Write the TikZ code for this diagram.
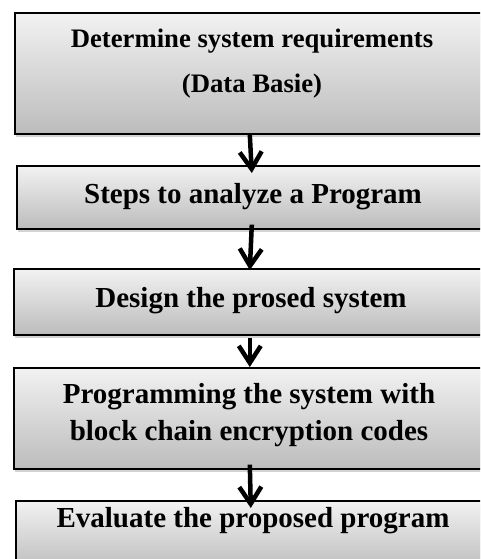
\documentclass[tikz,border=0pt]{standalone}
\usepackage{fontspec}
\setmainfont{Liberation Serif}
\usetikzlibrary{arrows.meta,shadows}

\definecolor{boxtop}{RGB}{242,242,242}
\definecolor{boxbottom}{RGB}{188,188,188}

\tikzset{
  stagebox/.style={
    draw=black, line width=1.6pt, rectangle, anchor=north west,
    top color=boxtop, bottom color=boxbottom,
    drop shadow={shadow xshift=1.5pt, shadow yshift=-3.5pt, opacity=0.35, fill=gray},
  },
  stagetext/.style={anchor=base, align=center, font=\bfseries, inner sep=0pt},
  flowarrow/.style={line width=4.5pt,
    -{Straight Barb[length=17pt,width=22pt,line width=4.5pt,line join=miter]}},
}

\begin{document}
\begin{tikzpicture}[x=1pt, y=-1pt]
  \useasboundingbox (0,0) rectangle (480,559);
  \clip (0,0) rectangle (480,559);

  % stage boxes (they run past the right and bottom edges)
  \node[stagebox, minimum width=476pt, minimum height=121pt] (b1) at (14,12) {};
  \node[stagebox, minimum width=476pt, minimum height=63pt]  (b2) at (16,165) {};
  \node[stagebox, minimum width=478pt, minimum height=66pt]  (b3) at (13,268) {};
  \node[stagebox, minimum width=478pt, minimum height=101pt] (b4) at (13,367) {};
  \node[stagebox, minimum width=476pt, minimum height=70pt]  (b5) at (15,500) {};

  % stage captions (base anchor = baseline of the last line)
  \node[stagetext, font=\bfseries\fontsize{26.7}{45}\selectfont] (t1) at (252,93)
    {Determine system requirements\\(Data Basie)};
  \node[stagetext, font=\bfseries\fontsize{29}{35}\selectfont] (t2) at (253,203)
    {Steps to analyze a Program};
  \node[stagetext, font=\bfseries\fontsize{29}{35}\selectfont] (t3) at (251,307)
    {Design the prosed system};
  \node[stagetext, font=\bfseries\fontsize{29}{37}\selectfont] (t4) at (249,440)
    {Programming the system with\\block chain encryption codes};
  \node[stagetext, font=\bfseries\fontsize{29}{35}\selectfont] (t5) at (253,527)
    {Evaluate the proposed program};

  % connectors between stages
  \draw[flowarrow] ([xshift=-3pt]b1.south) -- ([xshift=-3pt,yshift=-8pt]b2.north);
  \draw[flowarrow] ([xshift=-3pt,yshift=5pt]b2.south) -- ([xshift=-3pt,yshift=-2pt]b3.north);
  \draw[flowarrow] ([xshift=-3pt,yshift=-2pt]b3.south) -- ([xshift=-3pt,yshift=0pt]b4.north);
  \draw[flowarrow] ([xshift=-3pt,yshift=5pt]b4.south) -- ([xshift=-3pt,yshift=-8pt]b5.north);
\end{tikzpicture}
\end{document}
